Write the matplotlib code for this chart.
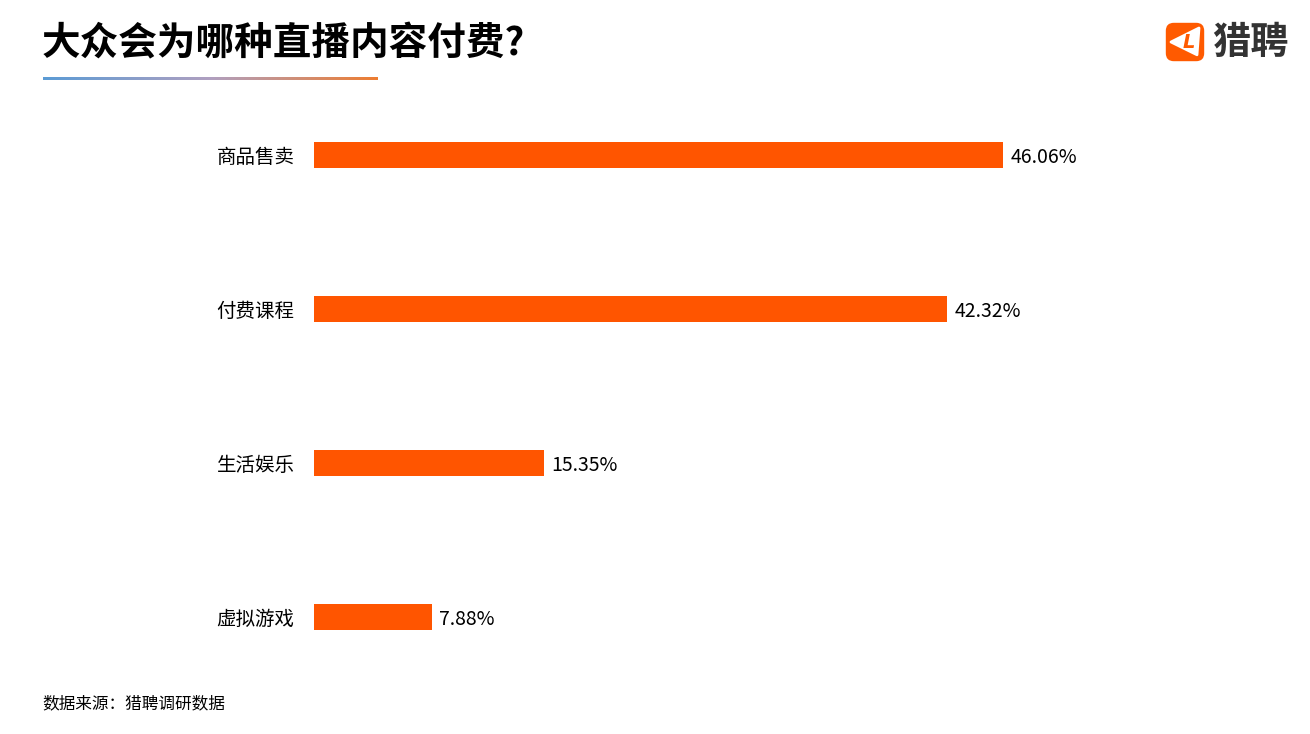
import numpy as np
import matplotlib.pyplot as plt
from matplotlib.patches import FancyBboxPatch, Polygon
from matplotlib.colors import LinearSegmentedColormap

plt.rcParams['font.family'] = ['Noto Sans CJK SC', 'DejaVu Sans']

### Donnees
categories = ['商品售卖', '付费课程', '生活娱乐', '虚拟游戏']
valeurs = [46.06, 42.32, 15.35, 7.88]
etiquettes = ['46.06%', '42.32%', '15.35%', '7.88%']

titre = '大众会为哪种直播内容付费?'
source = '数据来源：猎聘调研数据'
couleur_barre = '#FF5500'

W, H = 1310, 734
fig = plt.figure(figsize=(W/100, H/100), dpi=100)
fig.patch.set_facecolor('white')

### Barres
ax = fig.add_axes([314/W, 1-694/H, 900/W, 616/H])
y = np.arange(len(categories))
ax.barh(y, valeurs, height=0.163, color=couleur_barre)
ax.set_ylim(3.5, -0.5)
ax.set_xlim(0, 900/14.96)
ax.set_yticks(y)
ax.set_yticklabels(categories, fontsize=14)
ax.tick_params(axis='y', length=0, pad=14)
ax.set_xticks([])
for s in ax.spines.values():
    s.set_visible(False)
for i, v in enumerate(valeurs):
    ax.text(v + 0.5, i + 0.015, etiquettes[i], va='center', ha='left', fontsize=14, color='black')

### Titre et ligne en degrade
fig.text(42/W, 1-44/H, titre, fontsize=27.8, fontweight='bold', va='center', ha='left')
ax_grad = fig.add_axes([43/W, 1-80/H, 335/W, 3/H])
cmap = LinearSegmentedColormap.from_list('grad', ['#5B9BD5', '#B0A0C0', '#ED7D31'])
ax_grad.imshow(np.linspace(0, 1, 256).reshape(1, -1), aspect='auto', cmap=cmap)
ax_grad.axis('off')

### Logo
ax_logo = fig.add_axes([1165/W, 1-62/H, 40/W, 40/H])
ax_logo.set_xlim(0, 1); ax_logo.set_ylim(0, 1); ax_logo.axis('off')
ax_logo.add_patch(FancyBboxPatch((0.02, 0.02), 0.96, 0.96, boxstyle='round,pad=0,rounding_size=0.2',
                                 fc='#FF5A00', ec='none'))
ax_logo.add_patch(Polygon([[0.15, 0.5], [0.85, 0.85], [0.8, 0.18]], closed=True,
                          fc='white', ec='white', lw=2, joinstyle='round'))
ax_logo.text(0.6, 0.5, 'L', color='#FF5A00', fontsize=14, fontweight='bold', fontstyle='italic',
             ha='center', va='center', family='DejaVu Sans')
fig.text(1212/W, 1-42/H, '猎聘', fontsize=27.5, fontweight='bold', color='#333333', va='center', ha='left')

### Source
fig.text(42/W, 1-704/H, source, fontsize=12, va='center', ha='left')

fig.savefig('out.png', dpi=100)
